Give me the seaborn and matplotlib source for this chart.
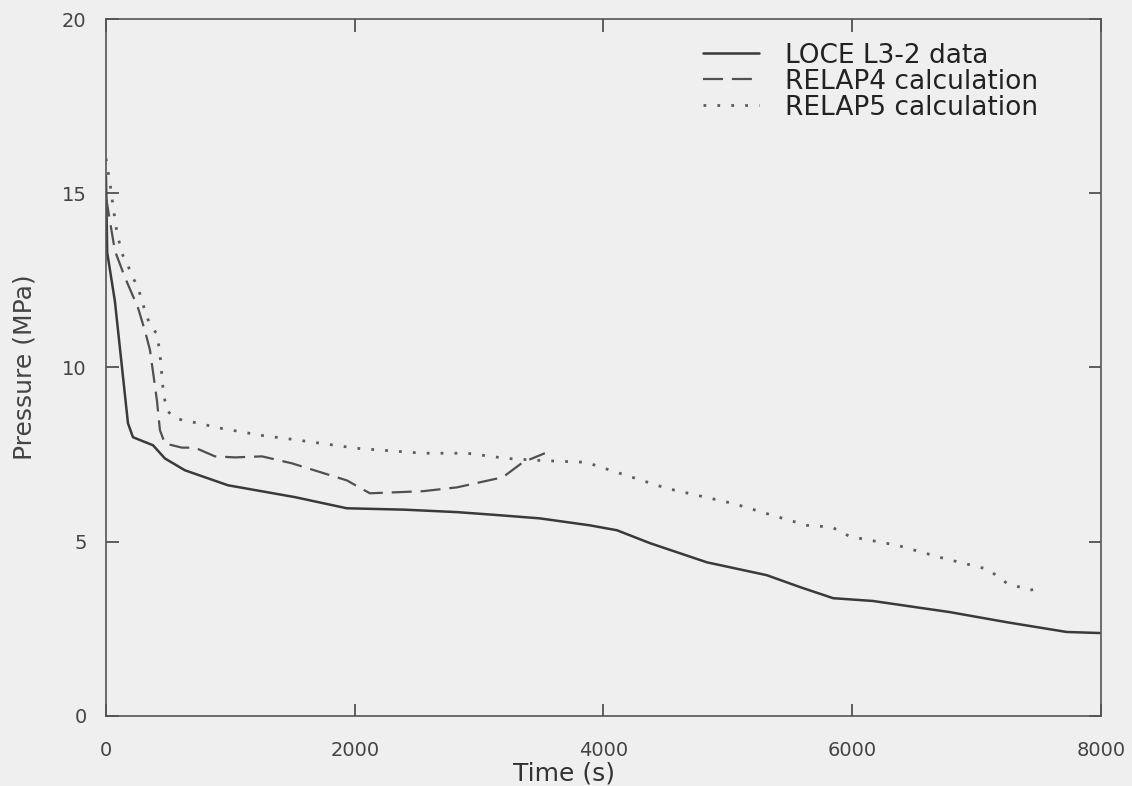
import pandas as pd
import matplotlib
matplotlib.use("Agg")
import matplotlib.pyplot as plt
import seaborn as sns

# LOCE L3-2 measured data
loce_t = [0, 10, 72, 177, 217, 300, 378, 474, 635, 981, 1519, 1937, 2400, 2822,
          3167, 3489, 3891, 4108, 4373, 4831, 5313, 5579, 5846, 6166, 6785, 7243,
          7725, 7990]
loce_p = [15.5, 13.3, 11.9, 8.4, 8.0, 7.88, 7.77, 7.39, 7.05, 6.62, 6.28, 5.96,
          5.92, 5.85, 5.76, 5.67, 5.47, 5.33, 4.96, 4.41, 4.04, 3.70, 3.38, 3.30,
          2.98, 2.69, 2.41, 2.38]

# RELAP4 calculation
r4_t = [0, 32, 72, 153, 257, 313, 354, 410, 434, 474, 611, 715, 876, 1037, 1254,
        1495, 1937, 2122, 2548, 2822, 3191, 3352, 3529]
r4_p = [14.9, 14.2, 13.35, 12.58, 11.72, 11.06, 10.5, 9.05, 8.2, 7.82, 7.7, 7.7,
        7.45, 7.42, 7.45, 7.25, 6.76, 6.39, 6.45, 6.56, 6.85, 7.28, 7.54]

# RELAP5 calculation
r5_t = [0, 32, 60, 88, 129, 177, 217, 257, 330, 378, 410, 434, 458, 474, 490, 555,
        715, 932, 1254, 1495, 2018, 2548, 2902, 3223, 3500, 3860, 4108, 4510,
        5040, 5442, 5636, 5836, 5981, 6359, 6728, 7090, 7243, 7428, 7524]
r5_p = [16.0, 15.3, 14.55, 13.87, 13.27, 12.92, 12.58, 12.3, 11.43, 11.1, 10.97,
        10.4, 9.43, 9.05, 8.77, 8.54, 8.42, 8.25, 8.05, 7.94, 7.68, 7.54, 7.54,
        7.39, 7.33, 7.28, 6.99, 6.53, 6.1, 5.67, 5.47, 5.42, 5.15, 4.9, 4.53,
        4.21, 3.81, 3.61, 3.67]

labels = ["LOCE L3-2 data", "RELAP4 calculation", "RELAP5 calculation"]

loce = pd.DataFrame({"Time": loce_t, "Pressure": loce_p})
r4 = pd.DataFrame({"Time": r4_t, "Pressure": r4_p})
r5 = pd.DataFrame({"Time": r5_t, "Pressure": r5_p})

sns.set_style("ticks")
plt.rcParams["font.family"] = ["DejaVu Sans"]
bg = "#efefef"

fig = plt.figure(figsize=(11.32, 7.86), dpi=100, facecolor=bg)
ax = fig.add_axes([0.0936, 0.0891, 0.879, 0.8867])
ax.set_facecolor(bg)

sns.lineplot(data=loce, x="Time", y="Pressure", ax=ax, sort=False, estimator=None,
             color="#3a3a3a", linewidth=1.8, label=labels[0])
sns.lineplot(data=r4, x="Time", y="Pressure", ax=ax, sort=False, estimator=None,
             color="#505050", linewidth=1.6, linestyle=(0, (9, 4)), label=labels[1])
sns.lineplot(data=r5, x="Time", y="Pressure", ax=ax, sort=False, estimator=None,
             color="#5c5c5c", linewidth=2.0, linestyle=(0, (1, 4)), label=labels[2])

ax.set_xlim(0, 8000)
ax.set_ylim(0, 20)
ax.set_xticks([0, 2000, 4000, 6000, 8000])
ax.set_yticks([0, 5, 10, 15, 20])
ax.tick_params(direction="in", length=9, width=1.2, top=True, right=True,
               labelsize=14, colors="#444444")
ax.tick_params(axis="x", pad=18)
ax.tick_params(axis="y", pad=14)
for s in ax.spines.values():
    s.set_color("#555555")
    s.set_linewidth(1.2)

ax.set_xlabel("Time (s)", fontsize=18, color="#333333")
ax.xaxis.set_label_coords(0.46, -0.066)
ax.set_ylabel("Pressure (MPa)", fontsize=18, color="#444444", labelpad=18)

ax.legend(loc="upper left", bbox_to_anchor=(0.587, 0.985), frameon=False,
          fontsize=19, labelspacing=0.0, handlelength=2.1, handletextpad=1.0,
          borderpad=0, labelcolor="#222222")

fig.savefig("out.png", dpi=100, facecolor=bg)
